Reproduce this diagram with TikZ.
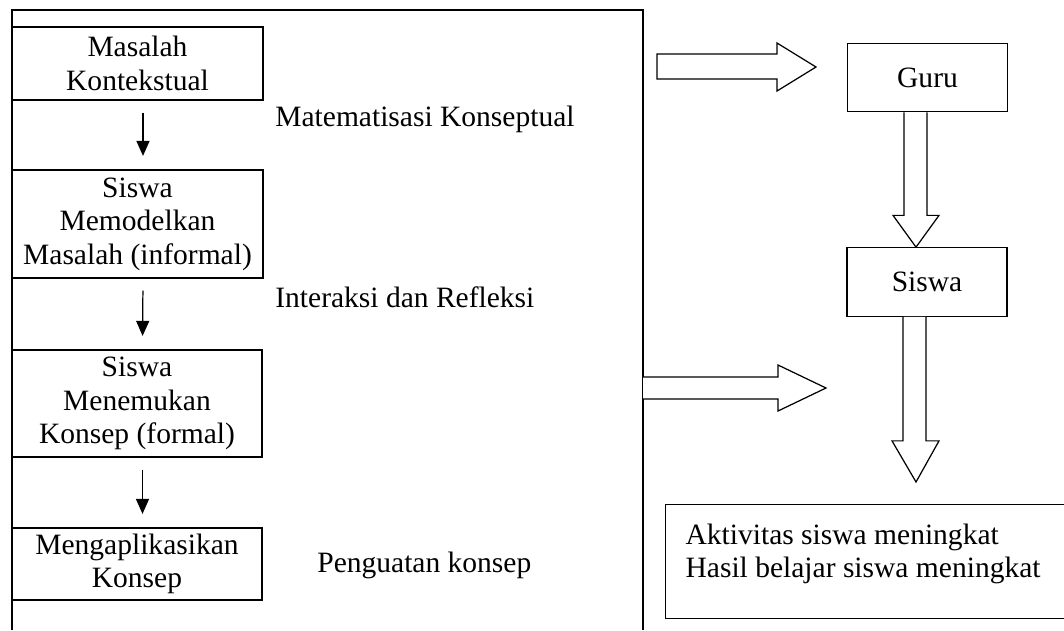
\documentclass[tikz,border=0pt]{standalone}
\usepackage{fontspec}
\setmainfont{Liberation Serif}
\usetikzlibrary{arrows.meta,calc}

\begin{document}
\begin{tikzpicture}[x=0.02cm,y=-0.02cm]
  % Define box, arrow and text styles
  \tikzstyle{every node} = [font=\fontsize{16.8}{19}\selectfont]
  \tikzstyle{langkah} = [draw, line width=0.7pt, rectangle, align=center,
  inner sep=0pt]
  \tikzstyle{peran} = [draw, line width=0.7pt, rectangle, inner sep=0pt,
  minimum width=3.2cm, minimum height=1.37cm]
  \tikzstyle{flow} = [-{Triangle[length=0.3cm,width=0.26cm]}, line width=0.7pt,
  shorten <=0.24cm, shorten >=0.27cm]
  \tikzstyle{hollow} = [draw, fill=white, line width=0.7pt, line join=miter]
  \tikzstyle{keterangan} = [anchor=west, inner sep=0pt]

  \useasboundingbox (0,0) rectangle (1064,630);

  % frame round the learning steps
  \coordinate (kiribawah) at (12,630);
  \coordinate (kiriatas) at (12,10);
  \coordinate (kananatas) at (643,10);
  \coordinate (kananbawah) at (643,630);
  \draw[line width=0.7pt] (kiribawah) -- (kiriatas) -- (kananatas) -- (kananbawah);

  % learning steps
  \node[langkah, minimum width=5.02cm, minimum height=1.46cm] (masalah)
    at (137.5,63.5) {Masalah\\Kontekstual};
  \node[langkah, minimum width=5.02cm, minimum height=2.16cm] (model)
    at (137.5,224) {Siswa\\Memodelkan\\Masalah (informal)};
  \node[langkah, minimum width=5.0cm, minimum height=2.14cm] (konsep)
    at (137,403.5) {Siswa\\Menemukan\\Konsep (formal)};
  \node[langkah, minimum width=5.0cm, minimum height=1.44cm] (aplikasi)
    at (137,564) {Mengaplikasikan\\Konsep};

  \draw[flow] ([xshift=0.11cm]masalah.south) -- ([xshift=0.11cm]model.north);
  \draw[flow] ([xshift=0.11cm]model.south) -- ([xshift=0.11cm]konsep.north);
  \draw[flow] ([xshift=0.11cm]konsep.south) -- ([xshift=0.11cm]aplikasi.north);

  \node[keterangan] (matematisasi) at (275,119) {Matematisasi Konseptual};
  \node[keterangan] (interaksi) at (275,297) {Interaksi dan Refleksi};
  \node[keterangan] (penguatan) at (317,565) {Penguatan konsep};

  % roles and result
  \node[peran] (guru) at (927.5,77.5) {Guru};
  \node[peran] (siswa) at (927,282) {Siswa};
  \node[draw, line width=0.7pt, anchor=north west, inner xsep=0.4cm,
    inner ysep=0.38cm] (hasil) at (665,504){%
    \begin{minipage}[c][1.52cm][t]{8cm}
      Aktivitas siswa meningkat\\
      Hasil belajar siswa meningkat
    \end{minipage}
  };

  % hollow arrows
  \coordinate (panahatas) at (657,67);
  \draw[hollow] (panahatas) ++(0,-13) -- ++(120,0) -- ++(0,-11) -- ++(39,24)
    -- ++(-39,24) -- ++(0,-12) -- ++(-120,0) -- cycle;
  \draw[hollow] (kananatas |- 0,377) -- (778,377) -- (778,365) -- (826,388)
    -- (778,411) -- (778,399) -- (kananatas |- 0,399);
  \draw[hollow] ($(guru.south)+(-23.5,0)$) -- ++(0,103) -- ++(-11,0)
    -- ($(siswa.north)+(-11,0)$) -- ($(guru.south)+(11.5,103)$)
    -- ++(-12,0) -- ($(guru.south)+(-0.5,0)$);
  \draw[hollow] ($(siswa.south)+(-24,0)$) -- ++(0,124) -- ++(-11,0)
    -- ($(hasil.north west)+(251,-22)$) -- ($(siswa.south)+(12,124)$)
    -- ++(-13,0) -- ($(siswa.south)+(-1,0)$);
\end{tikzpicture}
\end{document}
